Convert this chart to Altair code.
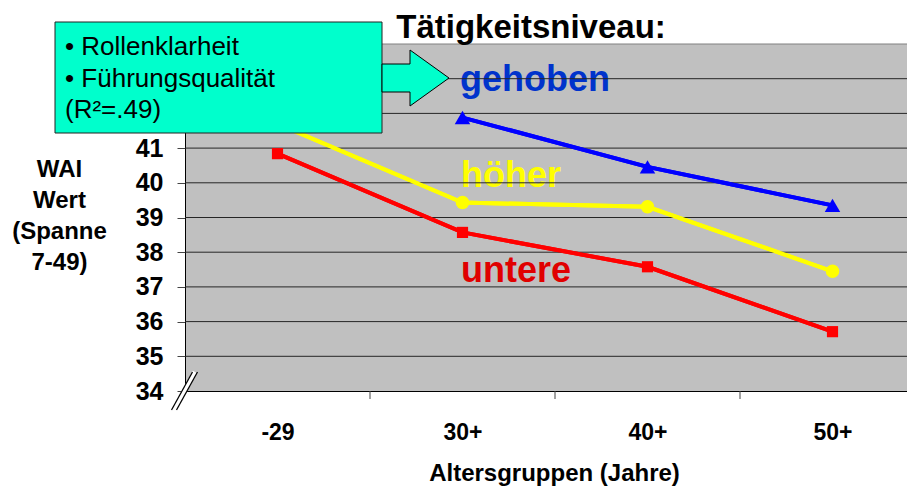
import altair as alt
import pandas as pd

# ---------------- data ----------------
categories = ["-29", "30+", "40+", "50+"]
series_names = ["gehoben", "höher", "untere"]
gehoben = [None, 41.88, 40.46, 39.35]
hoeher = [41.70, 39.43, 39.31, 37.45]
untere = [40.84, 38.57, 37.58, 35.71]
y_ticks = [34, 35, 36, 37, 38, 39, 40, 41]
grid_ticks = [35, 36, 37, 38, 39, 40, 41, 42, 43]
sep_ticks = [0.5, 1.5, 2.5]

line_colors = ["#0000FF", "#FFFF00", "#FF0000"]
label_colors = ["#0033CC", "#FFFF00", "#E00000"]
shapes = ["triangle-up", "circle", "square"]
sizes = [240, 125, 160]

title_text = "Tätigkeitsniveau:"
box_lines = ["• Rollenklarheit", "• Führungsqualität", "(R²=.49)"]
y_title = ["WAI", "Wert", "(Spanne", "7-49)"]
x_title = "Altersgruppen (Jahre)"

FONT = "Liberation Sans"
W, H = 722, 347
STEP = 185.0

rows = []
for name, vals in zip(series_names, [gehoben, hoeher, untere]):
    for i, v in enumerate(vals):
        if v is not None:
            rows.append({"idx": i, "cat": categories[i], "series": name, "value": v})
df = pd.DataFrame(rows)

xscale = alt.Scale(domain=[-0.5, -0.5 + W / STEP], nice=False, zero=False)
yscale = alt.Scale(domain=[34, 44], nice=False, zero=False)

label_expr = "[" + ",".join("'%s'" % c for c in categories) + "][datum.value]"

x_axis = alt.Axis(
    values=[0, 1, 2, 3], labelExpr=label_expr, ticks=False, grid=False,
    domainColor="black", domainWidth=1,
    labelFont=FONT, labelFontSize=23, labelFontWeight="bold", labelColor="black",
    labelBaseline="alphabetic", labelPadding=48,
    title=x_title, titleFont=FONT, titleFontSize=24, titleFontWeight="bold",
    titleColor="black", titleX=369, titleY=89, titleAlign="center",
    titleBaseline="alphabetic",
)
y_axis = alt.Axis(
    values=y_ticks, grid=False, tickSize=8, tickColor="#444", tickWidth=1,
    domainColor="black", domainWidth=1,
    labelFont=FONT, labelFontSize=25, labelFontWeight="bold", labelColor="black",
    labelPadding=14,
    title=y_title, titleAngle=0, titleFont=FONT, titleFontSize=24,
    titleFontWeight="bold", titleColor="black", titleX=-126, titleY=132,
    titleAlign="center", titleBaseline="alphabetic", titleLineHeight=31.3,
)


def X(field):
    return alt.X(field, scale=xscale, axis=x_axis)


def Y(field):
    return alt.Y(field, scale=yscale, axis=y_axis)


color_scale = alt.Scale(domain=series_names, range=line_colors)
one = pd.DataFrame({"a": [0]})

# series labels (behind grid lines, as in the reference)
label_pos = [(275, 47), (276, 143), (276, 238)]
label_layers = []
for name, col, (lx, ly) in zip(series_names, label_colors, label_pos):
    label_layers.append(
        alt.Chart(one).mark_text(
            text=name, align="left", baseline="alphabetic", font=FONT,
            fontSize=36, fontWeight="bold", color=col,
        ).encode(x=alt.value(lx), y=alt.value(ly))
    )

grid = alt.Chart(pd.DataFrame({"value": grid_ticks})).mark_rule(
    color="#262626", strokeWidth=1
).encode(y=Y("value:Q"))

top_border = alt.Chart(pd.DataFrame({"value": [44]})).mark_rule(
    color="#808080", strokeWidth=1
).encode(y=Y("value:Q"))

sep = alt.Chart(pd.DataFrame({"idx": sep_ticks})).mark_rule(
    color="#444", strokeWidth=1
).encode(x=X("idx:Q"), y=alt.value(H), y2=alt.value(H + 8))

lines = alt.Chart(df).mark_line(strokeWidth=4).encode(
    x=X("idx:Q"), y=Y("value:Q"),
    color=alt.Color("series:N", scale=color_scale, legend=None),
    detail="series:N",
)

points = alt.Chart(df).mark_point(filled=True, opacity=1).encode(
    x=X("idx:Q"), y=Y("value:Q"),
    color=alt.Color("series:N", scale=color_scale, legend=None),
    shape=alt.Shape("series:N", scale=alt.Scale(domain=series_names, range=shapes), legend=None),
    size=alt.Size("series:N", scale=alt.Scale(domain=series_names, range=sizes), legend=None),
)

# axis break symbol at the origin corner
brk_df = pd.DataFrame({"idx": [-0.5], "value": [34]})


def brk(off, color, width):
    return alt.Chart(brk_df).mark_rule(
        color=color, strokeWidth=width,
        xOffset=-11 + off, x2Offset=10 + off, yOffset=19, y2Offset=-19,
    ).encode(x=X("idx:Q"), x2="idx:Q", y=Y("value:Q"), y2="value:Q")


brk_white = brk(0, "white", 5)
brk_a = brk(-2.5, "black", 1.3)
brk_b = brk(2.5, "black", 1.3)

box = alt.Chart(one).mark_rect(
    fill="#00FFCC", stroke="#222", strokeWidth=1
).encode(x=alt.value(-130), x2=alt.value(197), y=alt.value(-22), y2=alt.value(89))

arrow_path = "M -34 -14 L -6 -14 L -6 -28 L 33 0 L -6 28 L -6 14 L -34 14 Z"
arrow = alt.Chart(one).mark_point(
    shape=arrow_path, size=4, filled=True, fill="#00FFCC", stroke="black",
    strokeWidth=1, opacity=1, fillOpacity=1, strokeOpacity=1,
).encode(x=alt.value(231), y=alt.value(34))

box_text = alt.Chart(one).mark_text(
    text=box_lines, align="left", baseline="alphabetic", font=FONT, fontSize=26,
    color="black", lineHeight=31.5,
).encode(x=alt.value(-120), y=alt.value(11))

title = alt.Chart(one).mark_text(
    text=title_text, align="center", baseline="alphabetic", font=FONT, fontSize=33,
    fontWeight="bold", color="black",
).encode(x=alt.value(346), y=alt.value(-6))

chart = alt.layer(
    lines, *label_layers, top_border, grid, sep, lines, points,
    brk_white, brk_a, brk_b, box, arrow, box_text, title,
).properties(
    width=W, height=H,
    autosize=alt.AutoSizeParams(type="none"),
    padding={"left": 177, "top": 36, "right": 0, "bottom": 96},
    background="white",
).configure_view(
    fill="#C0C0C0", stroke=None
)

chart.save("out.html", embed_options={"renderer": "svg", "actions": False})
